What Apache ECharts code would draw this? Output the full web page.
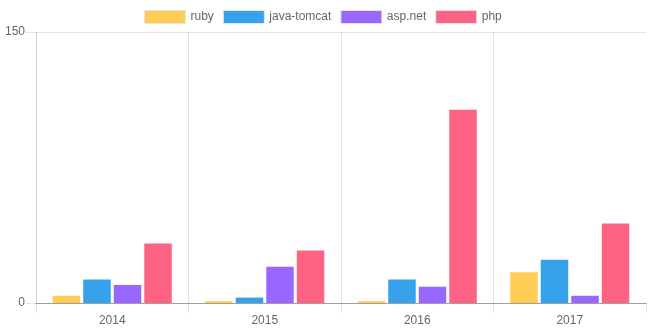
<!DOCTYPE html>
<html>
<head>
<meta charset="utf-8">
<script src="https://cdn.jsdelivr.net/npm/echarts@6/dist/echarts.min.js"></script>
<style>
  html, body { margin: 0; padding: 0; background: #fff; }
  #chart { width: 663px; height: 331px; }
</style>
</head>
<body>
<div id="chart"></div>
<script>
// Yearly counts per server technology
const years = ['2014', '2015', '2016', '2017'];
const ruby = [4, 1, 1, 17];
const javaTomcat = [13, 3, 13, 24];
const aspNet = [10, 20, 9, 4];
const php = [33, 29, 107, 44];

const seriesNames = ['ruby', 'java-tomcat', 'asp.net', 'php'];
const seriesData = [ruby, javaTomcat, aspNet, php];
const colors = ['#ffcd56', '#36a2eb', '#9966ff', '#ff6384'];

const font = '"Liberation Sans", Helvetica, Arial, sans-serif';
const gridColor = 'rgba(0,0,0,0.1)';

const chart = echarts.init(document.getElementById('chart'), null, { renderer: 'canvas' });

chart.setOption({
  animation: false,
  color: colors,
  legend: {
    top: 10,
    left: 144,
    padding: 0,
    itemWidth: 41,
    itemHeight: 13,
    itemGap: 9,
    icon: 'rect',
    itemStyle: { borderColor: '#e6e6e6', borderWidth: 1 },
    textStyle: { fontFamily: font, fontSize: 12, color: '#666' },
    data: seriesNames
  },
  grid: { left: 36, right: 17, top: 32, bottom: 28, containLabel: false },
  xAxis: {
    type: 'category',
    data: years,
    boundaryGap: true,
    axisLine: { show: true, lineStyle: { color: 'rgba(0,0,0,0.3)', width: 1 } },
    axisTick: { show: true, alignWithLabel: false, length: 10, lineStyle: { color: gridColor } },
    axisLabel: { fontFamily: font, fontSize: 12, color: '#666', margin: 12 },
    splitLine: { show: true, showMaxLine: false, lineStyle: { color: gridColor } }
  },
  yAxis: {
    type: 'value',
    min: 0,
    max: 150,
    interval: 150,
    axisLine: { show: true, lineStyle: { color: gridColor } },
    axisTick: { show: true, length: 10, lineStyle: { color: gridColor } },
    axisLabel: { fontFamily: font, fontSize: 12, color: '#666', margin: 11 },
    splitLine: { show: true, lineStyle: { color: gridColor } }
  },
  series: seriesNames.map((name, i) => ({
    name: name,
    type: 'bar',
    data: seriesData[i],
    barWidth: 27.5,
    barGap: '11%',
    itemStyle: { color: colors[i] }
  }))
});
</script>
</body>
</html>
